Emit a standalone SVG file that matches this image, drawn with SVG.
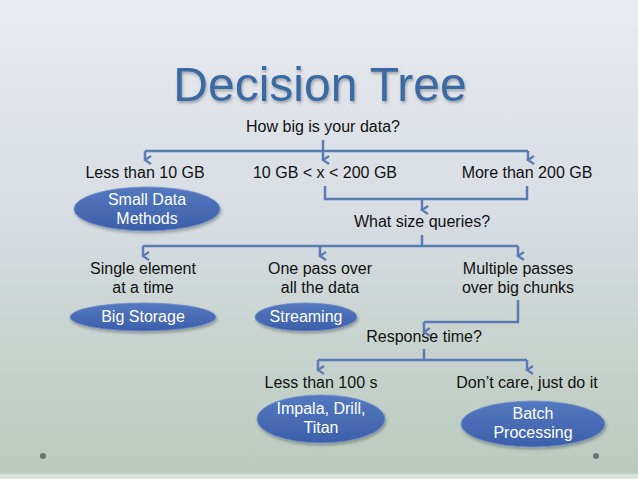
<svg xmlns="http://www.w3.org/2000/svg" width="638" height="479" viewBox="0 0 638 479">
<defs>
<linearGradient id="bg" x1="0" y1="0" x2="0" y2="1">
<stop offset="0" stop-color="#e8ebf0"/>
<stop offset="0.45" stop-color="#d7dde3"/>
<stop offset="0.75" stop-color="#c6d2cc"/>
<stop offset="1" stop-color="#b9cbbd"/>
</linearGradient>
<linearGradient id="ell" x1="0" y1="0" x2="0" y2="1">
<stop offset="0" stop-color="#5479c0"/>
<stop offset="1" stop-color="#3c5fa9"/>
</linearGradient>
<marker id="arr" viewBox="0 0 10 10" refX="5" refY="8" markerWidth="10" markerHeight="10" markerUnits="userSpaceOnUse" orient="auto-start-reverse">
<path d="M1,2 L5,8 L9,2" fill="none" stroke="#5a7bb5" stroke-width="2.2"/>
</marker>
<filter id="sh" x="-20%" y="-20%" width="140%" height="160%">
<feDropShadow dx="1" dy="2" stdDeviation="1.5" flood-color="#000" flood-opacity="0.3"/>
</filter>
</defs>
<style>
.t{font-family:"Liberation Sans",Arial,sans-serif;font-size:16px;fill:#111;text-anchor:middle}
.w{font-family:"Liberation Sans",Arial,sans-serif;font-size:16px;fill:#fff;text-anchor:middle}
.e{fill:url(#ell);stroke:#6f8fcc;stroke-width:0.8;filter:url(#sh)}
.c{fill:none;stroke:#5a7bb5;stroke-width:2.5}
.a{marker-end:url(#arr)}
</style>
<rect width="638" height="479" fill="url(#bg)"/>
<rect y="474" width="638" height="5" fill="#d9e2dc"/>
<g id="title">
<text x="320" y="101" font-family="'Liberation Sans',Arial,sans-serif" font-size="48" fill="#3b69a2" text-anchor="middle" style="filter:url(#sh)">Decision Tree</text>
</g>
<g id="q1"><text class="t" x="323" y="132">How big is your data?</text></g>
<g id="lt10"><text class="t" x="145" y="178">Less than 10 GB</text></g>
<g id="mid"><text class="t" x="325" y="178">10 GB &lt; x &lt; 200 GB</text></g>
<g id="gt200"><text class="t" x="527" y="178">More than 200 GB</text></g>
<g id="small"><ellipse class="e" cx="147" cy="209" rx="73" ry="22"/><text class="w" x="147" y="205">Small Data</text><text class="w" x="147" y="224">Methods</text></g>
<g id="q2"><text class="t" x="422" y="227">What size queries?</text></g>
<g id="single"><text class="t" x="143" y="274">Single element</text><text class="t" x="143" y="293">at a time</text></g>
<g id="onepass"><text class="t" x="320" y="274">One pass over</text><text class="t" x="320" y="293">all the data</text></g>
<g id="multi"><text class="t" x="518" y="274">Multiple passes</text><text class="t" x="518" y="293">over big chunks</text></g>
<g id="bigstorage"><ellipse class="e" cx="143" cy="317" rx="73" ry="14"/><text class="w" x="143" y="322">Big Storage</text></g>
<g id="streaming"><ellipse class="e" cx="306" cy="317" rx="51" ry="14"/><text class="w" x="306" y="322">Streaming</text></g>
<g id="q3"><text class="t" x="424" y="342">Response time?</text></g>
<g id="lt100"><text class="t" x="321" y="388">Less than 100 s</text></g>
<g id="dontcare"><text class="t" x="527" y="388">Don’t care, just do it</text></g>
<g id="impala"><ellipse class="e" cx="321" cy="419" rx="64" ry="24"/><text class="w" x="321" y="414">Impala, Drill,</text><text class="w" x="321" y="433">Titan</text></g>
<g id="batch"><ellipse class="e" cx="533" cy="424" rx="72" ry="23"/><text class="w" x="533" y="419">Batch</text><text class="w" x="533" y="438">Processing</text></g>
<g id="connectors">
<path class="c" d="M323,140 V151"/>
<path class="c" d="M145,151 H528"/>
<path class="c a" d="M145,151 V160"/>
<path class="c a" d="M323,151 V160"/>
<path class="c a" d="M528,151 V160"/>
<path class="c" d="M325,186 V199 H527 V186"/>
<path class="c a" d="M422,199 V210"/>
<path class="c" d="M422,235 V246"/>
<path class="c" d="M143,246 H518"/>
<path class="c a" d="M143,246 V256"/>
<path class="c a" d="M320,246 V256"/>
<path class="c a" d="M518,246 V256"/>
<path class="c" d="M518,300 V322 H424"/>
<path class="c a" d="M424,322 V332"/>
<path class="c" d="M424,349 V360"/>
<path class="c" d="M318,360 H527"/>
<path class="c a" d="M318,360 V370"/>
<path class="c a" d="M527,360 V370"/>
</g>
<circle cx="43" cy="456" r="3" fill="#6c7478"/>
<circle cx="596" cy="456" r="3" fill="#6c7478"/>
</svg>
